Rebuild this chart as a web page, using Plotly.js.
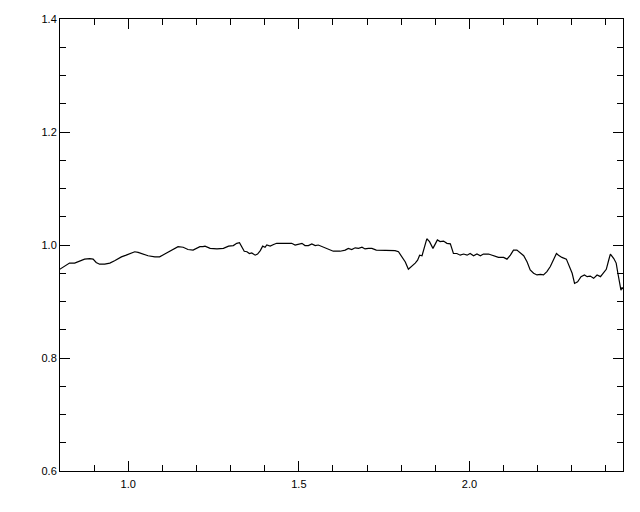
<!DOCTYPE html>
<html>
<head>
<meta charset="utf-8">
<script src="https://cdn.plot.ly/plotly-3.0.1.min.js"></script>
<style>html,body{margin:0;padding:0;background:#fff;}#chart{width:640px;height:512px;}</style>
</head>
<body>
<div id="chart"></div>
<script>
const xValues = [0.799,0.814,0.828,0.843,0.858,0.872,0.887,0.897,0.906,0.916,0.931,0.946,0.960,0.980,0.994,1.004,1.019,1.029,1.043,1.058,1.078,1.092,1.107,1.126,1.146,1.161,1.175,1.190,1.200,1.210,1.219,1.225,1.240,1.260,1.279,1.294,1.308,1.318,1.326,1.333,1.340,1.348,1.355,1.362,1.372,1.379,1.387,1.394,1.401,1.406,1.416,1.426,1.435,1.455,1.479,1.489,1.499,1.509,1.518,1.528,1.538,1.548,1.557,1.572,1.587,1.601,1.621,1.636,1.645,1.655,1.665,1.675,1.685,1.694,1.704,1.714,1.727,1.748,1.768,1.782,1.792,1.802,1.812,1.821,1.831,1.841,1.848,1.854,1.861,1.867,1.875,1.883,1.893,1.900,1.906,1.914,1.924,1.934,1.944,1.953,1.963,1.973,1.983,1.993,2.002,2.012,2.022,2.032,2.041,2.056,2.071,2.085,2.100,2.110,2.120,2.129,2.139,2.149,2.159,2.169,2.178,2.188,2.198,2.208,2.217,2.227,2.237,2.247,2.255,2.261,2.271,2.284,2.291,2.301,2.308,2.317,2.327,2.337,2.345,2.354,2.364,2.374,2.384,2.393,2.401,2.408,2.413,2.423,2.430,2.435,2.440,2.444,2.447,2.450];
const yValues = [0.957,0.963,0.968,0.968,0.972,0.975,0.976,0.975,0.969,0.966,0.966,0.968,0.972,0.979,0.982,0.984,0.988,0.987,0.984,0.981,0.979,0.979,0.984,0.990,0.997,0.996,0.992,0.991,0.994,0.997,0.997,0.998,0.994,0.993,0.994,0.998,0.999,1.003,1.004,0.997,0.989,0.988,0.985,0.986,0.982,0.984,0.990,0.998,0.996,1.000,0.998,1.001,1.003,1.003,1.003,1.000,1.002,1.003,0.999,0.999,1.002,0.999,1.000,0.996,0.992,0.989,0.989,0.991,0.994,0.992,0.995,0.994,0.996,0.993,0.994,0.994,0.991,0.991,0.991,0.990,0.988,0.979,0.970,0.957,0.962,0.968,0.973,0.982,0.981,0.994,1.011,1.006,0.994,1.002,1.009,1.006,1.007,1.003,1.002,0.985,0.985,0.982,0.984,0.982,0.985,0.981,0.984,0.981,0.984,0.984,0.981,0.978,0.978,0.975,0.982,0.991,0.991,0.986,0.981,0.970,0.956,0.950,0.947,0.948,0.947,0.953,0.962,0.975,0.985,0.982,0.978,0.975,0.965,0.950,0.932,0.935,0.944,0.947,0.944,0.945,0.941,0.947,0.944,0.951,0.957,0.973,0.984,0.976,0.968,0.950,0.929,0.920,0.925,0.922];
const xRange = [0.8, 2.45];
const yRange = [0.6, 1.4];

const tickFont = {family: 'Liberation Sans, Arial, sans-serif', size: 11, color: '#000'};
const axisCommon = {
  showline: true, linecolor: '#000', linewidth: 1, mirror: 'ticks',
  ticks: 'inside', ticklen: 10, tickcolor: '#000', tickwidth: 1,
  showgrid: false, zeroline: false, tickfont: tickFont, tickformat: '.1f'
};

Plotly.newPlot('chart', [{
  x: xValues, y: yValues, type: 'scatter', mode: 'lines',
  line: {color: '#000', width: 1.2}, hoverinfo: 'skip'
}], {
  width: 640, height: 512,
  margin: {l: 60, r: 17, t: 19, b: 41},
  paper_bgcolor: '#fff', plot_bgcolor: '#fff',
  showlegend: false,
  xaxis: Object.assign({}, axisCommon, {range: xRange, tick0: 0, dtick: 0.5, ticklabelstandoff: 3,
    minor: {ticks: 'inside', ticklen: 6, dtick: 0.1, tick0: 0, tickcolor: '#000', showgrid: false}}),
  yaxis: Object.assign({}, axisCommon, {range: yRange, tick0: 0, dtick: 0.2,
    minor: {ticks: 'inside', ticklen: 6, dtick: 0.05, tick0: 0, tickcolor: '#000', showgrid: false}})
}, {staticPlot: true});
</script>
</body>
</html>
